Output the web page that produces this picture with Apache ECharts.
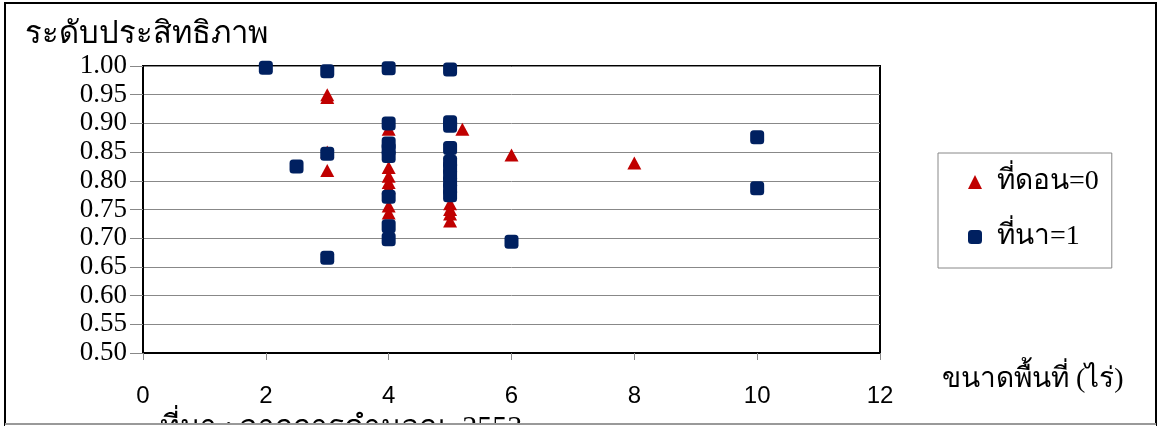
<!DOCTYPE html>
<html>
<head>
<meta charset="utf-8">
<script src="https://cdn.jsdelivr.net/npm/echarts@6/dist/echarts.min.js"></script>
<style>
  body{margin:0;background:#fff;}
  #chart{width:1159px;height:426px;}
</style>
</head>
<body>
<div id="chart"></div>
<script>
// ที่ดอน=0 (triangles)
var dryX = [3, 3, 3, 3, 4, 4, 4, 4, 4, 4, 4, 5, 5, 5, 5, 5, 5.2, 6, 8]
var dryY = [0.950, 0.945, 0.850, 0.818, 0.890, 0.823, 0.808, 0.797, 0.788, 0.756, 0.744, 0.842, 0.760, 0.750, 0.742, 0.730, 0.890, 0.845, 0.831]

// ที่นา=1 (squares)
var paddyX = [2, 2.5, 3, 3, 3, 4, 4, 4, 4, 4, 4, 4, 4, 5, 5, 5, 5, 5, 5, 5, 5, 5, 5, 6, 10, 10]
var paddyY = [0.997, 0.825, 0.991, 0.847, 0.666, 0.996, 0.900, 0.865, 0.855, 0.843, 0.772, 0.721, 0.698, 0.994, 0.902, 0.896, 0.857, 0.833, 0.822, 0.810, 0.798, 0.786, 0.775, 0.694, 0.876, 0.787]

var seriesNames = ['ที่ดอน=0', 'ที่นา=1']
var yTitle = 'ระดับประสิทธิภาพ'
var xTitle = 'ขนาดพื้นที่ (ไร่)'
var sourceText = 'ที่มา : จากการคำนวณ, 2553'

function pairs(xs, ys){
    let out = []
    for(let i=0;i<xs.length;i++){
        out.push([xs[i], ys[i]])
    }
    return out
}

var serif = "'Liberation Serif', 'Times New Roman', serif"
var sans = "'Liberation Sans', Arial, sans-serif"

option = {
    backgroundColor: '#fff',
    animation: false,
    grid: {
        left: 143, top: 66, right: 279, bottom: 73,
        show: true,
        borderColor: '#000',
        borderWidth: 2
    },
    legend: {
        orient: 'vertical',
        left: 938,
        top: 153,
        padding: [14, 13, 16, 30],
        itemGap: 25,
        itemWidth: 14,
        itemHeight: 14,
        borderColor: '#888',
        borderWidth: 1,
        textStyle: {
            fontFamily: serif,
            fontSize: 28,
            lineHeight: 30,
            color: '#000',
            padding: [0, 0, 0, 10]
        },
        data: [
            { name: seriesNames[0], icon: 'triangle' },
            { name: seriesNames[1], icon: 'roundRect' }
        ]
    },
    xAxis: {
        type: 'value',
        min: 0, max: 12, interval: 2,
        axisLine: { lineStyle: { color: '#000', width: 2 } },
        axisTick: { show: true, length: 7, lineStyle: { color: '#888' } },
        splitLine: { show: false },
        axisLabel: {
            margin: 31,
            fontFamily: sans,
            fontSize: 24,
            color: '#000'
        }
    },
    yAxis: {
        type: 'value',
        min: 0.5, max: 1.0, interval: 0.05,
        axisLine: { show: true, lineStyle: { color: '#000', width: 2 } },
        axisTick: { show: true, length: 13, lineStyle: { color: '#888' } },
        splitLine: { show: true, lineStyle: { color: '#888', width: 1 } },
        axisLabel: {
            margin: 16,
            fontFamily: serif,
            fontSize: 27,
            color: '#000',
            formatter: function(v){ return v.toFixed(2) }
        }
    },
    graphic: [
        { type: 'polyline', shape: { points: [[5, 426], [5, 3], [1156, 3], [1156, 426]] },
          style: { stroke: '#000', lineWidth: 2, fill: null } },
        { type: 'text', left: 25, top: 19,
          style: { text: yTitle, font: '31px ' + serif, fill: '#000' } },
        { type: 'text', left: 942, top: 366,
          style: { text: xTitle, font: '28px ' + serif, fill: '#000' } },
        { type: 'text', left: 160, top: 413,
          style: { text: sourceText, font: '30px ' + serif, fill: '#000' } },
        { type: 'rect', shape: { x: 5, y: 423, width: 1151, height: 3 },
          style: { fill: '#fff' } },
        { type: 'line', shape: { x1: 5, y1: 424, x2: 1156, y2: 424 },
          style: { stroke: '#999', lineWidth: 2 } }
    ],
    series: [
        {
            name: seriesNames[0],
            type: 'scatter',
            symbol: 'triangle',
            symbolSize: [14, 13],
            itemStyle: { color: '#C00000', opacity: 1 },
            data: pairs(dryX, dryY)
        },
        {
            name: seriesNames[1],
            type: 'scatter',
            symbol: 'roundRect',
            symbolSize: 14,
            itemStyle: { color: '#002060', opacity: 1 },
            data: pairs(paddyX, paddyY)
        }
    ]
};

var myChart = echarts.init(document.getElementById('chart'));
myChart.setOption(option);
</script>
</body>
</html>
